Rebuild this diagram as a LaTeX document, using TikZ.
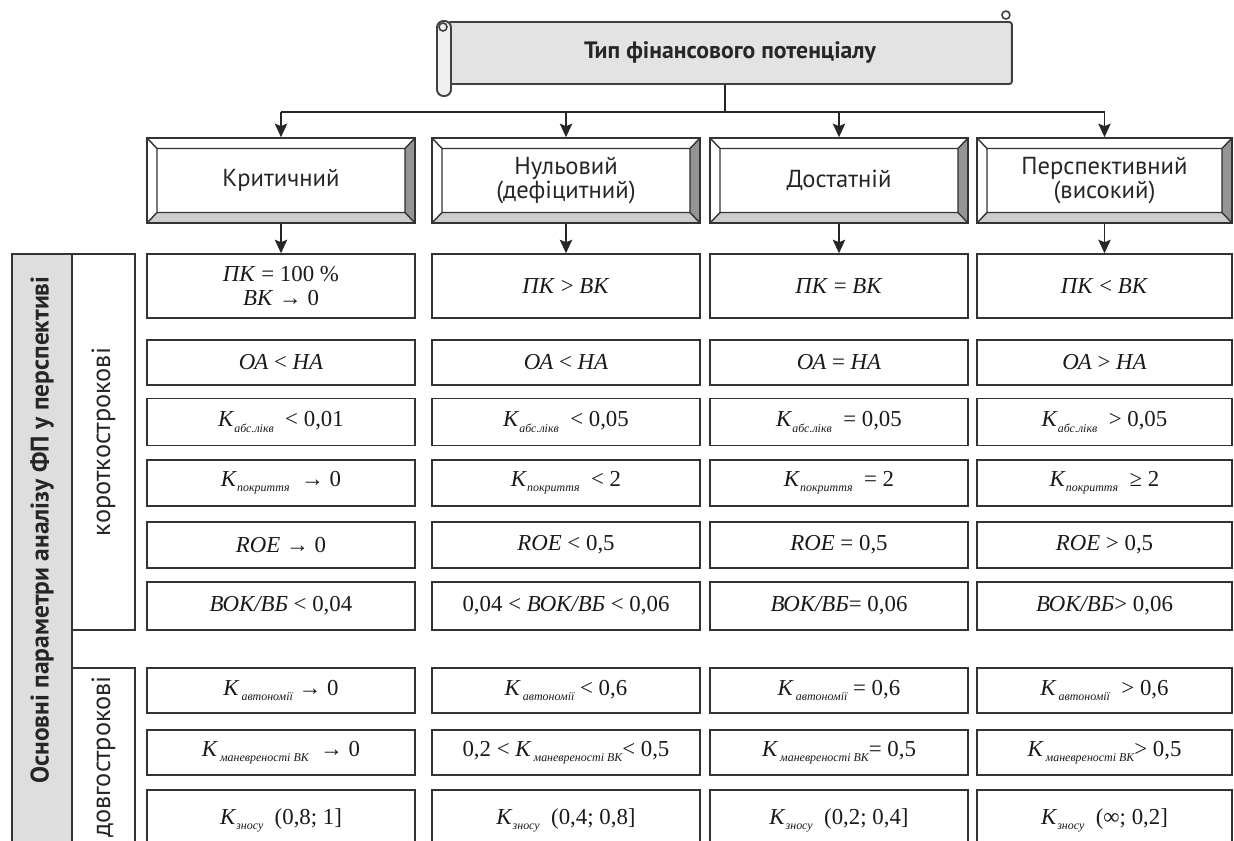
\documentclass[tikz,border=0pt]{standalone}
\usepackage{fontspec}
\setmainfont{PT Sans}
\newfontfamily\tnr{Liberation Serif}
\usetikzlibrary{arrows.meta,positioning}
\newcommand{\colw}[1]{\ifcase#1\or5.36cm\or5.36cm\or5.16cm\or5.10cm\fi}
\newcommand{\Kx}[1]{\textit{К}\raisebox{-0.5ex}{\fontsize{6.8}{7}\selectfont\itshape #1}}

\begin{document}
\begin{tikzpicture}[x=0.02cm, y=-0.02cm,
  font=\fontsize{14}{14}\selectfont,
  arr/.style={-{Stealth[length=2.7mm,width=2.5mm,inset=0.5mm]}, line width=0.75pt, black!85},
  lnk/.style={line width=0.75pt, black!85},
  hdr/.style={draw=black!75, line width=1.1pt, fill=black!11, rounded corners=1.5pt, minimum width=11.28cm, minimum height=1.24cm, inner sep=0pt, font=\fontsize{13.5}{15}\selectfont\bfseries, text=black!85},
  tbox/.style={draw=black!80, line width=1pt, minimum height=1.7cm, inner sep=0pt, align=center, text=black!85,
    path picture={
      \coordinate (pnw) at (path picture bounding box.north west);
      \coordinate (pne) at (path picture bounding box.north east);
      \coordinate (psw) at (path picture bounding box.south west);
      \coordinate (pse) at (path picture bounding box.south east);
      \coordinate (qnw) at ([shift={(0.2cm,-0.21cm)}]pnw);
      \coordinate (qne) at ([shift={(-0.2cm,-0.21cm)}]pne);
      \coordinate (qsw) at ([shift={(0.2cm,0.21cm)}]psw);
      \coordinate (qse) at ([shift={(-0.2cm,0.21cm)}]pse);
      \fill[black!42] (pne) -- (pse) -- (qse) -- (qne) -- cycle;
      \fill[black!20] (psw) -- (pse) -- (qse) -- (qsw) -- cycle;
      \draw[black!80, line width=0.8pt] (qnw) rectangle (qse) (pnw) -- (qnw) (pne) -- (qne) (psw) -- (qsw) (pse) -- (qse);
    }},
  cell/.style={draw=black!80, line width=0.9pt, inner sep=0pt, align=center, font=\tnr\fontsize{13}{14}\selectfont, text=black!90},
  panel/.style={draw=black!80, line width=0.9pt, rotate=90, inner sep=0pt, text=black!85},
]
\useasboundingbox (0,0) rectangle (1234,841);
\clip (0,0) rectangle (1234,841);

% ---------- title scroll ----------
\node[hdr] (head) at (730,53) {Тип фінансового потенціалу};
\draw[black!75, line width=1.1pt, fill=black!6, rounded corners=0.13cm] (437,21) rectangle (451,96);
\draw[black!75, line width=0.9pt] (443,27) circle[radius=0.08cm];
\draw[black!75, line width=0.9pt] ([shift={(-0.14cm,0.12cm)}]head.north east) circle[radius=0.08cm];

% ---------- types ----------
\node[tbox, minimum width=\colw{1}] (t1) at (281,180.5) {Критичний};
\node[tbox, minimum width=\colw{2}] (t2) at (566,180.5) {Нульовий\\(дефіцитний)};
\node[tbox, minimum width=\colw{3}] (t3) at (839,180.5) {Достатній};
\node[tbox, minimum width=\colw{4}] (t4) at (1104.5,180.5) {Перспективний\\(високий)};

\coordinate (hub) at (725,112);
\draw[lnk] (head.south -| hub) -- (hub);
\draw[lnk] (hub -| t1) -- (hub -| t4);
\foreach \n in {1,...,4} \draw[arr] (hub -| t\n) -- (t\n.north);

% ---------- short-term rows ----------
\foreach \n/\txt in {
  1/{\textit{ПК} = 100 \%\\\textit{ВК} → 0},
  2/{\textit{ПК} > \textit{ВК}},
  3/{\textit{ПК} = \textit{ВК}},
  4/{\textit{ПК} < \textit{ВК}}}
  \node[cell, minimum width=\colw{\n}, minimum height=1.28cm] (r1c\n) at (t\n |- 0,286) {\txt};
\foreach \n in {1,...,4} \draw[arr] (t\n.south) -- (r1c\n.north);

\foreach \n/\txt in {
  1/{\textit{ОА} < \textit{НА}},
  2/{\textit{ОА} < \textit{НА}},
  3/{\textit{ОА} = \textit{НА}},
  4/{\textit{ОА} > \textit{НА}}}
  \node[cell, minimum width=\colw{\n}, minimum height=0.9cm] (r2c\n) at (t\n |- 0,362.5) {\txt};

\foreach \n/\txt in {
  1/{\Kx{абс.лікв}\ \ < 0,01},
  2/{\Kx{абс.лікв}\ \ < 0,05},
  3/{\Kx{абс.лікв}\ \ = 0,05},
  4/{\Kx{абс.лікв}\ \ > 0,05}}
  \node[cell, minimum width=\colw{\n}, minimum height=0.94cm] (r3c\n) at (t\n |- 0,422) {\txt};

\foreach \n/\txt in {
  1/{\Kx{покриття}\ \ → 0},
  2/{\Kx{покриття}\ \ < 2},
  3/{\Kx{покриття}\ \ = 2},
  4/{\Kx{покриття}\ \ ≥ 2}}
  \node[cell, minimum width=\colw{\n}, minimum height=0.92cm] (r4c\n) at (t\n |- 0,483) {\txt};

\foreach \n/\txt in {
  1/{\textit{ROE} → 0},
  2/{\textit{ROE} < 0,5},
  3/{\textit{ROE} = 0,5},
  4/{\textit{ROE} > 0,5}}
  \node[cell, minimum width=\colw{\n}, minimum height=0.92cm] (r5c\n) at (t\n |- 0,545) {\txt};

\foreach \n/\txt in {
  1/{\textit{ВОК/ВБ} < 0,04},
  2/{0,04 < \textit{ВОК/ВБ} < 0,06},
  3/{\textit{ВОК/ВБ}= 0,06},
  4/{\textit{ВОК/ВБ}> 0,06}}
  \node[cell, minimum width=\colw{\n}, minimum height=0.96cm] (r6c\n) at (t\n |- 0,606) {\txt};

% ---------- long-term rows ----------
\foreach \n/\txt in {
  1/{\Kx{\,автономії}\ → 0},
  2/{\Kx{\,автономії} < 0,6},
  3/{\Kx{\,автономії} = 0,6},
  4/{\Kx{\,автономії}\ \ > 0,6}}
  \node[cell, minimum width=\colw{\n}, minimum height=0.9cm] (r7c\n) at (t\n |- 0,690.5) {\txt};

\foreach \n/\txt in {
  1/{\Kx{\,маневреності ВК}\ \ → 0},
  2/{0,2 < \Kx{\,маневреності ВК}< 0,5},
  3/{\Kx{\,маневреності ВК}= 0,5},
  4/{\Kx{\,маневреності ВК}> 0,5}}
  \node[cell, minimum width=\colw{\n}, minimum height=0.9cm] (r8c\n) at (t\n |- 0,752.5) {\txt};

\foreach \n/\txt in {
  1/{\Kx{зносу}\ \ (0,8; 1]},
  2/{\Kx{зносу}\ \ (0,4; 0,8]},
  3/{\Kx{зносу}\ \ (0,2; 0,4]},
  4/{\Kx{зносу}\ \ (∞; 0,2]}}
  \node[cell, minimum width=\colw{\n}, minimum height=1.2cm] (r9c\n) at (t\n |- 0,820) {\txt};

% ---------- side labels ----------
\node[panel, fill=black!13, minimum width=12cm, minimum height=1.2cm] (mainbar) at (42,554) {};
\node[rotate=90, font=\fontsize{14.5}{15}\selectfont\bfseries, text=black!85] (mainlbl) at (42,530) {Основні параметри аналізу ФП у перспективі};
\node[panel, fill=white, minimum width=7.52cm, minimum height=1.26cm, font=\fontsize{15}{15}\selectfont] (shortlbl) at (103.5,442) {короткострокові};
\node[panel, fill=white, minimum width=3.56cm, minimum height=1.26cm, font=\fontsize{15}{15}\selectfont] (longlbl) at (103.5,757) {довгострокові};
\end{tikzpicture}
\end{document}
